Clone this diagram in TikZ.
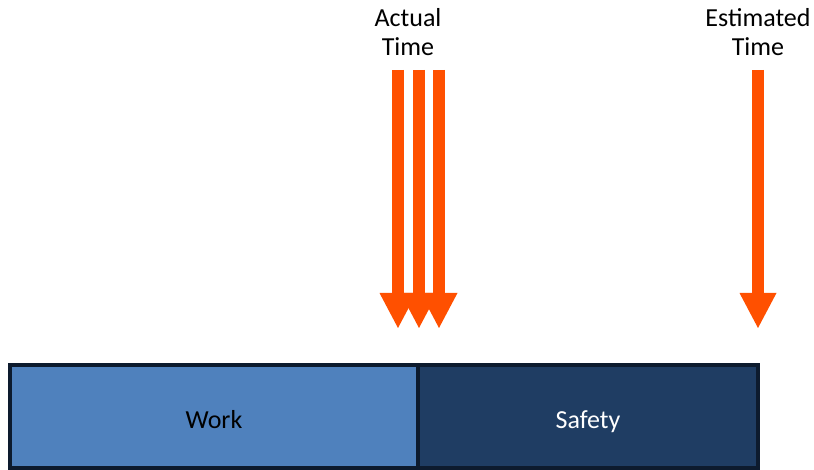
\documentclass[tikz,border=0pt]{standalone}
\usepackage{fontspec}
\setmainfont{Carlito}
\usepackage{tikz}
\usetikzlibrary{arrows.meta, positioning}
\definecolor{myorange}{RGB}{255,80,0}
\definecolor{myblue}{RGB}{79,129,189}
\definecolor{mynavy}{RGB}{31,61,99}
\definecolor{myborder}{RGB}{13,27,46}
\tikzset{
  barbox/.style={rectangle, draw=myborder, line width=4pt,
    minimum height=103pt, inner sep=0pt, outer sep=0pt,
    text height=23pt, text depth=0pt,
    font=\fontsize{26}{29}\selectfont},
  timelabel/.style={align=center, inner sep=0pt,
    font=\fontsize{26}{29}\selectfont},
  bigarrow/.style={line width=12pt, color=myorange,
    -{Triangle[width=37pt, length=35pt, line width=0pt]}}
}
\begin{document}
\begin{tikzpicture}[x=1pt, y=1pt]
  \useasboundingbox (0,0) rectangle (814,470);
  \node[barbox, fill=myblue, minimum width=408pt] (work) at (214,53) {Work};
  \node[barbox, fill=mynavy, text=white, minimum width=340pt, right=0pt of work] (safety) {Safety};

  \node[timelabel] (actual) at (408,438) {Actual\\Time};
  \node[timelabel] (estimated) at (758,438) {Estimated\\Time};
  \coordinate (tip) at (0,142);

  \foreach \dx in {-10, 11, 31}
    \draw[bigarrow] ([xshift=\dx pt, yshift=-14pt]actual.south) -- ([xshift=\dx pt]actual.south |- tip);
  \draw[bigarrow] ([yshift=-14pt]estimated.south) -- (estimated.south |- tip);
\end{tikzpicture}
\end{document}
